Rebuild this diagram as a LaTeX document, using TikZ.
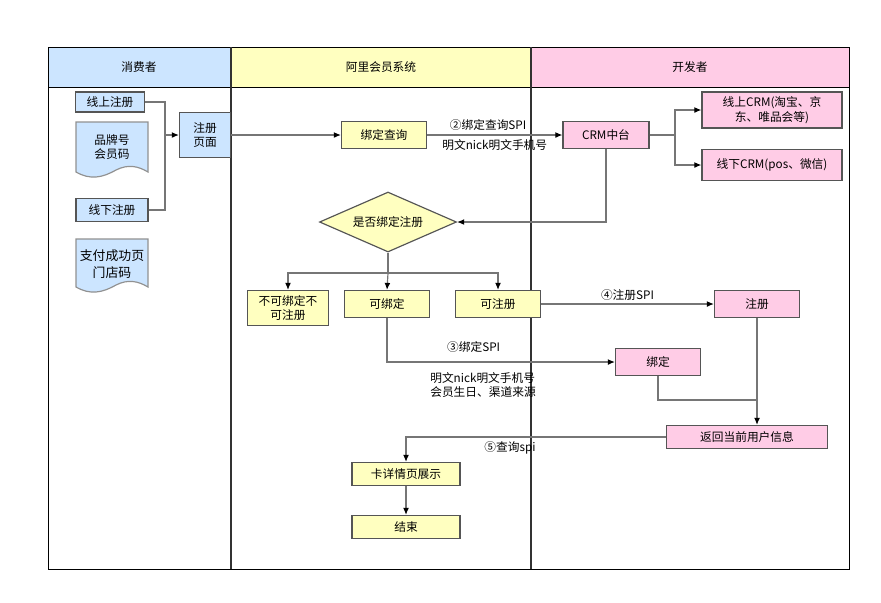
\documentclass[tikz,border=0pt]{standalone}
\usepackage{fontspec}
\setmainfont{Noto Sans CJK SC}
\usepackage{xcolor}
\usetikzlibrary{positioning,shapes.geometric,arrows.meta,calc}

\definecolor{consumer}{RGB}{204,229,255}
\definecolor{alisys}{RGB}{255,255,192}
\definecolor{devlane}{RGB}{255,204,230}
\definecolor{boxline}{RGB}{85,85,85}
\definecolor{flowgray}{RGB}{118,118,118}
\definecolor{lanegray}{RGB}{50,50,50}

\begin{document}
\begin{tikzpicture}[x=0.03cm, y=-0.03cm, font=\fontsize{10}{12.5}\selectfont,
    box/.style={draw=boxline, line width=1pt, align=center, inner sep=1pt},
    bluebox/.style={box, fill=consumer},
    yelbox/.style={box, fill=alisys, minimum width=2.55cm, minimum height=0.81cm},
    pinkbox/.style={box, fill=devlane, minimum width=2.55cm, minimum height=0.81cm},
    docshape/.style={draw=flowgray!80, line width=1pt, fill=consumer},
    line/.style={draw=flowgray, line width=1pt},
    flow/.style={line, -{Latex[length=6pt, width=5pt, black]}},
    lanesep/.style={draw=lanegray, line width=1.3pt}]
    \useasboundingbox (0,0) rectangle (881,602);

    % swimlanes
    \fill[consumer] (48,47) rectangle (231,87);
    \fill[alisys] (231,47) rectangle (531,87);
    \fill[devlane] (531,47) rectangle (849,87);
    \draw[black, line width=0.8pt] (48,47) rectangle (849,569);
    \draw[black, line width=0.8pt] (48,87) -- (849,87);
    \draw[lanesep] (231,47) -- (231,569);
    \draw[lanesep] (531,47) -- (531,569);
    \node (hcons) at (139,67) {消费者};
    \node (hali) at (381,67) {阿里会员系统};
    \node (hdev) at (690,67) {开发者};

    % consumer lane
    \node[bluebox, minimum width=2.07cm, minimum height=0.6cm] (online) at (110,102) {线上注册};
    \node[bluebox, minimum width=2.16cm, minimum height=0.69cm] (offline) at (112,210) {线下注册};
    \node[bluebox, minimum width=1.53cm, minimum height=1.35cm] (regpage) at (205,135) {注册\\页面};
    \draw[docshape] (76,122) -- (148,122) -- (148,172)
        .. controls (138,166) and (128,164) .. (116,170)
        .. controls (102,178) and (90,180) .. (76,172) -- cycle;
    \node[align=center] (brandcode) at (112,147) {品牌号\\会员码};
    \draw[docshape] (76,239) -- (148,239) -- (148,287)
        .. controls (138,281) and (128,279) .. (116,285)
        .. controls (102,293) and (90,295) .. (76,287) -- cycle;
    \node[align=center, font=\fontsize{11}{14.5}\selectfont] (paycode) at (112,264) {支付成功页\\门店码};

    % ali member system lane
    \node[yelbox] (bindq) at (384,135) {绑定查询};
    \node[box, fill=alisys, shape=diamond, aspect=2.28, inner sep=0pt, minimum width=4.11cm, minimum height=1.8cm] (decide) at (388,222) {是否绑定注册};
    \node[yelbox, minimum width=2.43cm, minimum height=1.05cm] (nobind) at (288,308) {不可绑定不\\可注册};
    \node[yelbox] (canbind) at (387,304) {可绑定};
    \node[yelbox] (canreg) at (498,304) {可注册};
    \node[yelbox, minimum width=3.24cm, minimum height=0.69cm] (detail) at (406,474) {卡详情页展示};
    \node[yelbox, minimum width=3.24cm, minimum height=0.69cm] (finish) at (406,527) {结束};

    % developer lane
    \node[pinkbox, minimum width=2.58cm] (crm) at (606,135) {CRM中台};
    \node[pinkbox, minimum width=4.2cm, minimum height=1.08cm] (onlinecrm) at (772,110) {线上CRM(淘宝、京\\东、唯品会等)};
    \node[pinkbox, minimum width=4.2cm, minimum height=0.93cm] (offlinecrm) at (772,165) {线下CRM(pos、微信)};
    \node[pinkbox] (devreg) at (757,304) {注册};
    \node[pinkbox] (devbind) at (658,362) {绑定};
    \node[pinkbox, minimum width=4.83cm, minimum height=0.69cm] (retinfo) at (747,437) {返回当前用户信息};

    % connectors
    \coordinate (regjoin) at (165,135);
    \draw[line] (online.east) -| (regjoin);
    \draw[line] (offline.east) -| (regjoin);
    \draw[flow] (regjoin) -- (regpage.west);
    \draw[flow] (regpage) -- (bindq);
    \draw[flow] (bindq) -- node[above, xshift=-0.2cm] {②绑定查询SPI}
        node[below] {明文nick明文手机号} (crm);
    \coordinate (crmfork) at (675,135);
    \draw[line] (crm) -- (crmfork);
    \draw[flow] (crmfork) |- (onlinecrm.west);
    \draw[flow] (crmfork) |- (offlinecrm.west);
    \draw[flow] (crm.south) |- (decide.east);

    \coordinate (fork) at (388,273);
    \draw[line] (decide.south) -- (fork);
    \draw[line] (nobind.north |- fork) -- (canreg.north |- fork);
    \draw[flow] (fork) -| (nobind.north);
    \draw[flow] (fork) -- (canbind.north);
    \draw[flow] (fork) -| (canreg.north);

    \draw[flow] (canreg) -- node[above, yshift=-1pt] {④注册SPI} (devreg);
    \draw[flow] (canbind.south) |- node[pos=0.69, above, yshift=4pt] {③绑定SPI} (devbind.west);
    \node[align=left] (bindinfo) at (483,385) {明文nick明文手机号\\会员生日、渠道来源};

    \coordinate (merge) at (757,400);
    \draw[line] (devbind.south) |- (merge);
    \draw[flow] (devreg.south) -- (devreg.south |- retinfo.north);
    \draw[flow] (retinfo.west) -| node[pos=0.3, below] {⑤查询spi} (detail.north);
    \draw[flow] (detail) -- (finish);
\end{tikzpicture}
\end{document}
